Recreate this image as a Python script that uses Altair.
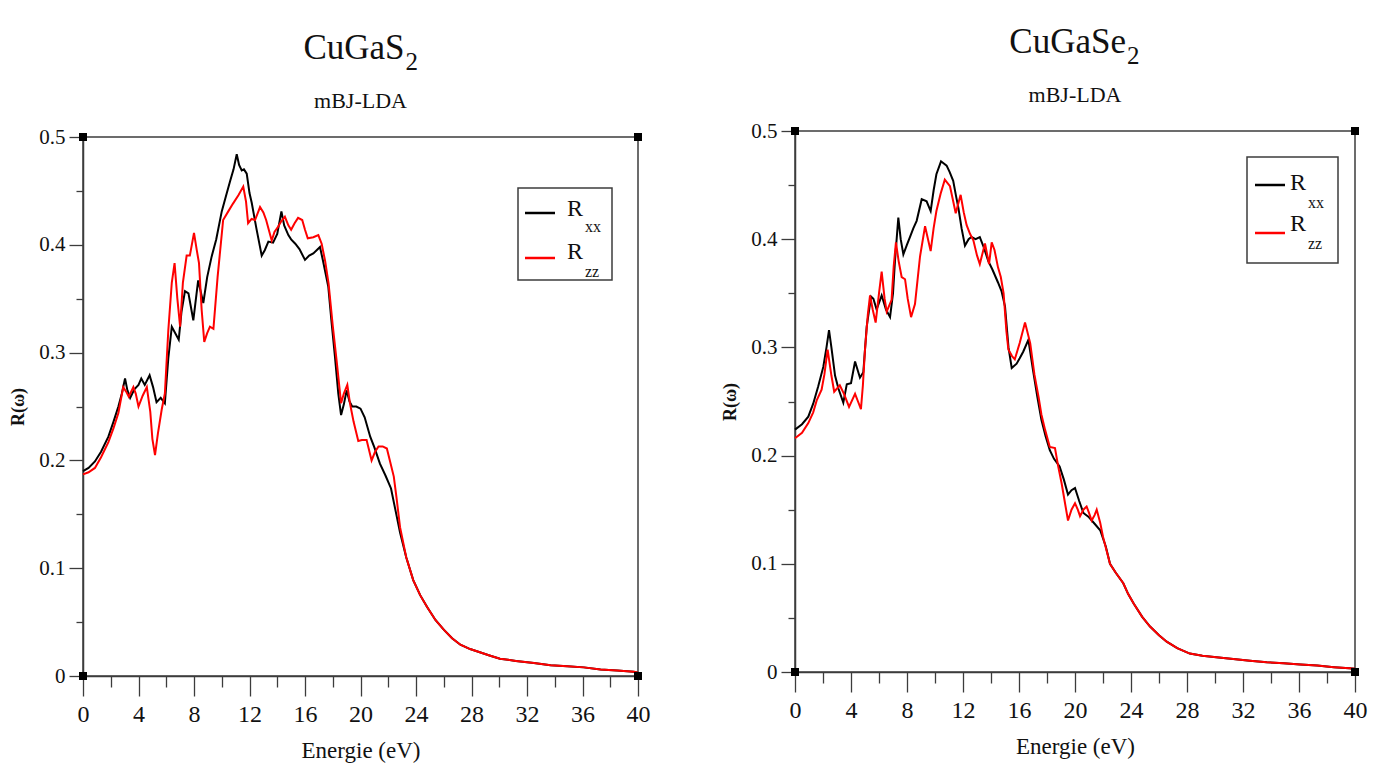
import altair as alt
import pandas as pd

# ---------------- data ----------------
# CuGaS2, R_xx
S_XX_E = [0, 0.4, 0.86, 1.3, 1.83, 2.2, 2.55, 2.8, 3.03, 3.2, 3.4, 3.7, 4.0, 4.2, 4.45, 4.8, 5.05, 5.3, 5.6, 5.9,
          6.15, 6.4, 6.65, 6.9, 7.1, 7.35, 7.6, 7.95, 8.3, 8.67, 8.95, 9.27, 9.6, 10.0, 10.3, 10.6, 10.85, 11.08,
          11.25, 11.44, 11.6, 11.8, 12.0, 12.16, 12.5, 12.88, 13.1, 13.36, 13.7, 14.0, 14.3, 14.5, 14.8, 15.0,
          15.3, 15.6, 16.0, 16.3, 16.6, 17.08, 17.3, 17.68, 17.9, 18.16, 18.4, 18.6, 18.8, 19.0, 19.2, 19.4,
          19.7, 20.0, 20.3, 20.7, 21.0, 21.4, 21.8, 22.2, 22.5, 22.85, 23.3, 23.8, 24.3, 24.8, 25.4, 26.0, 26.6,
          27.2, 27.9, 28.6, 29.3, 30.05, 31.2, 32.5, 33.7, 34.9, 36.1, 37.3, 38.5, 39.7, 40.0]
S_XX_R = [0.190, 0.193, 0.199, 0.208, 0.222, 0.236, 0.250, 0.262, 0.276, 0.265, 0.258, 0.266, 0.270, 0.276,
          0.270, 0.279, 0.268, 0.254, 0.258, 0.253, 0.295, 0.324, 0.318, 0.312, 0.338, 0.357, 0.355, 0.330,
          0.367, 0.346, 0.370, 0.389, 0.405, 0.431, 0.445, 0.459, 0.470, 0.484, 0.474, 0.469, 0.470, 0.466,
          0.448, 0.439, 0.415, 0.390, 0.395, 0.403, 0.402, 0.410, 0.431, 0.418, 0.409, 0.405, 0.401, 0.396,
          0.386, 0.390, 0.392, 0.398, 0.385, 0.361, 0.330, 0.296, 0.262, 0.242, 0.252, 0.265, 0.255, 0.250,
          0.250, 0.248, 0.240, 0.222, 0.212, 0.197, 0.186, 0.174, 0.155, 0.133, 0.110, 0.089, 0.075, 0.064,
          0.052, 0.043, 0.035, 0.029, 0.025, 0.022, 0.019, 0.016, 0.014, 0.012, 0.010, 0.009, 0.008, 0.006,
          0.005, 0.004, 0.003]

# CuGaS2, R_zz
S_ZZ_E = [0, 0.4, 0.86, 1.3, 1.83, 2.2, 2.55, 2.9, 3.1, 3.3, 3.63, 3.8, 4.0, 4.3, 4.6, 4.85, 5.0, 5.19, 5.4,
          5.67, 5.9, 6.15, 6.4, 6.6, 6.8, 7.0, 7.2, 7.47, 7.7, 8.0, 8.2, 8.36, 8.55, 8.74, 8.95, 9.15, 9.4,
          9.7, 10.1, 10.47, 10.8, 11.2, 11.55, 11.75, 11.9, 12.15, 12.4, 12.76, 13.0, 13.2, 13.6, 13.8, 14.07,
          14.3, 14.55, 14.8, 15.0, 15.25, 15.5, 15.8, 16.0, 16.2, 16.6, 16.96, 17.2, 17.45, 17.7, 18.0, 18.3,
          18.6, 18.8, 19.05, 19.24, 19.5, 19.84, 20.1, 20.44, 20.8, 21.05, 21.3, 21.6, 21.9, 22.15, 22.4, 22.6,
          22.85, 23.3, 23.8, 24.3, 24.8, 25.4, 26.0, 26.6, 27.2, 27.9, 28.6, 29.3, 30.05, 31.2, 32.5, 33.7,
          34.9, 36.1, 37.3, 38.5, 39.7, 40.0]
S_ZZ_R = [0.187, 0.189, 0.193, 0.203, 0.217, 0.230, 0.244, 0.268, 0.264, 0.259, 0.268, 0.262, 0.250, 0.260,
          0.268, 0.245, 0.220, 0.205, 0.225, 0.247, 0.262, 0.321, 0.365, 0.383, 0.350, 0.324, 0.365, 0.390,
          0.390, 0.411, 0.395, 0.383, 0.340, 0.310, 0.318, 0.324, 0.322, 0.370, 0.423, 0.431, 0.438, 0.446,
          0.454, 0.440, 0.420, 0.424, 0.423, 0.435, 0.430, 0.423, 0.404, 0.412, 0.417, 0.422, 0.426, 0.418,
          0.414, 0.420, 0.425, 0.423, 0.414, 0.406, 0.407, 0.409, 0.401, 0.385, 0.364, 0.325, 0.290, 0.253,
          0.262, 0.270, 0.253, 0.236, 0.218, 0.219, 0.219, 0.200, 0.208, 0.213, 0.213, 0.211, 0.198, 0.185,
          0.165, 0.138, 0.110, 0.089, 0.075, 0.064, 0.052, 0.043, 0.035, 0.029, 0.025, 0.022, 0.019, 0.016,
          0.014, 0.012, 0.010, 0.009, 0.008, 0.006, 0.005, 0.004, 0.003]

# CuGaSe2, R_xx
SE_XX_E = [0, 0.5, 0.95, 1.3, 1.66, 2.02, 2.25, 2.43, 2.6, 2.86, 3.1, 3.45, 3.7, 4.0, 4.29, 4.5, 4.64, 4.88,
           5.12, 5.43, 5.6, 5.83, 6.19, 6.5, 6.79, 7.0, 7.14, 7.38, 7.55, 7.74, 8.0, 8.21, 8.45, 8.69, 9.05, 9.4,
           9.69, 9.9, 10.1, 10.43, 10.83, 11.05, 11.3, 11.5, 11.67, 11.9, 12.14, 12.4, 12.6, 12.9, 13.2, 13.5,
           13.8, 14.1, 14.5, 14.75, 15.0, 15.25, 15.48, 15.83, 16.05, 16.3, 16.67, 17.0, 17.3, 17.6, 17.9, 18.2,
           18.5, 18.9, 19.2, 19.5, 19.75, 20.0, 20.3, 20.6, 21.0, 21.4, 21.8, 22.2, 22.5, 22.9, 23.45, 23.8,
           24.2, 24.8, 25.36, 26.0, 26.55, 27.3, 28.2, 29.1, 30.1, 31.3, 32.5, 33.7, 34.9, 36.1, 37.3, 38.5,
           39.6, 40.0]
SE_XX_R = [0.224, 0.229, 0.236, 0.248, 0.264, 0.282, 0.300, 0.316, 0.300, 0.274, 0.262, 0.249, 0.266, 0.267,
           0.287, 0.278, 0.272, 0.277, 0.319, 0.347, 0.345, 0.335, 0.348, 0.335, 0.328, 0.350, 0.380, 0.420,
           0.400, 0.386, 0.395, 0.402, 0.410, 0.417, 0.437, 0.435, 0.426, 0.445, 0.460, 0.472, 0.468, 0.462,
           0.454, 0.440, 0.429, 0.410, 0.394, 0.400, 0.402, 0.400, 0.402, 0.392, 0.380, 0.372, 0.360, 0.352,
           0.338, 0.300, 0.281, 0.285, 0.290, 0.296, 0.307, 0.279, 0.255, 0.233, 0.218, 0.205, 0.197, 0.190,
           0.178, 0.164, 0.168, 0.170, 0.158, 0.147, 0.143, 0.137, 0.131, 0.116, 0.100, 0.092, 0.082, 0.072,
           0.063, 0.051, 0.042, 0.034, 0.028, 0.022, 0.017, 0.015, 0.0136, 0.012, 0.0105, 0.009, 0.008, 0.007,
           0.006, 0.0045, 0.0034, 0.003]

# CuGaSe2, R_zz
SE_ZZ_E = [0, 0.5, 0.95, 1.3, 1.55, 1.9, 2.1, 2.33, 2.6, 2.8, 3.2, 3.5, 3.86, 4.29, 4.5, 4.71, 4.85, 5.0, 5.2,
           5.36, 5.55, 5.76, 6.0, 6.19, 6.4, 6.55, 6.9, 7.05, 7.21, 7.4, 7.62, 7.86, 8.05, 8.29, 8.57, 8.75,
           8.93, 9.29, 9.5, 9.69, 9.9, 10.1, 10.4, 10.7, 11.07, 11.3, 11.48, 11.83, 12.05, 12.26, 12.5, 12.74,
           13.0, 13.2, 13.57, 13.86, 14.05, 14.25, 14.5, 14.7, 14.9, 15.1, 15.24, 15.5, 15.7, 16.05, 16.43,
           16.8, 17.1, 17.4, 17.6, 17.86, 18.2, 18.57, 18.8, 19.05, 19.3, 19.5, 19.75, 20.0, 20.2, 20.36, 20.6,
           20.83, 21.0, 21.19, 21.4, 21.55, 21.8, 22.0, 22.3, 22.5, 22.9, 23.45, 23.8, 24.2, 24.8, 25.36, 26.0,
           26.55, 27.3, 28.2, 29.1, 30.1, 31.3, 32.5, 33.7, 34.9, 36.1, 37.3, 38.5, 39.6, 40.0]
SE_ZZ_R = [0.216, 0.221, 0.230, 0.240, 0.251, 0.261, 0.275, 0.298, 0.274, 0.259, 0.265, 0.257, 0.245, 0.257,
           0.250, 0.243, 0.265, 0.298, 0.330, 0.348, 0.335, 0.323, 0.350, 0.370, 0.345, 0.333, 0.344, 0.375,
           0.397, 0.380, 0.365, 0.363, 0.345, 0.328, 0.340, 0.362, 0.384, 0.412, 0.400, 0.389, 0.410, 0.426,
           0.442, 0.455, 0.449, 0.435, 0.424, 0.441, 0.425, 0.413, 0.405, 0.399, 0.385, 0.377, 0.396, 0.377,
           0.397, 0.390, 0.374, 0.365, 0.350, 0.315, 0.298, 0.292, 0.289, 0.304, 0.323, 0.304, 0.275, 0.254,
           0.238, 0.224, 0.208, 0.207, 0.190, 0.174, 0.155, 0.140, 0.150, 0.156, 0.150, 0.144, 0.150, 0.153,
           0.147, 0.140, 0.145, 0.150, 0.138, 0.125, 0.110, 0.100, 0.092, 0.082, 0.072, 0.063, 0.051, 0.042,
           0.034, 0.028, 0.022, 0.017, 0.015, 0.0136, 0.012, 0.0105, 0.009, 0.008, 0.007, 0.006, 0.0045,
           0.0034, 0.003]

SERIES = ["Rxx", "Rzz"]
SERIES_COLORS = ["#000000", "#ff0000"]
CORNER_E = [0, 40, 0, 40]
CORNER_R = [0, 0, 0.5, 0.5]
X_TICKS = list(range(0, 41, 2))
Y_TICKS = [round(i * 0.05, 2) for i in range(11)]

FONT = "Liberation Serif"
AX = "#3c3c3c"
TXT = "#111111"


def title_block(name, W, Ht):
    """Formula (with subscript 2) and method line, drawn above a panel."""
    one = pd.DataFrame({"k": [0]})
    base = Ht + 11  # position of the plot's top edge, relative to this block
    dx = {"CuGaS": 44, "CuGaSe": 51}[name]
    t1 = alt.Chart(one).mark_text(font=FONT, fontSize=35, color=TXT, align="right",
                                  baseline="alphabetic", text=name).encode(
        x=alt.value(W / 2 + dx), y=alt.value(base - 76))
    t2 = alt.Chart(one).mark_text(font=FONT, fontSize=25, color=TXT, align="left",
                                  baseline="alphabetic", text="2").encode(
        x=alt.value(W / 2 + dx + 1), y=alt.value(base - 65))
    t3 = alt.Chart(one).mark_text(font=FONT, fontSize=22, color=TXT, align="center",
                                  baseline="alphabetic", text="mBJ-LDA").encode(
        x=alt.value(W / 2), y=alt.value(base - 27))
    return alt.layer(t1, t2, t3).properties(
        width=W, height=Ht, view=alt.ViewBackground(stroke="transparent", fill="transparent"))


def panel(e_xx, r_xx, e_zz, r_zz, W, H, leg):
    df = pd.concat([
        pd.DataFrame({"E": e_xx, "R": r_xx, "s": SERIES[0]}),
        pd.DataFrame({"E": e_zz, "R": r_zz, "s": SERIES[1]}),
    ])
    xs = alt.Scale(domain=[0, 40], nice=False, zero=False)
    ys = alt.Scale(domain=[0, 0.5], nice=False, zero=False)
    major_y = "abs(datum.value*10 - round(datum.value*10)) < 0.001"
    x_axis = alt.Axis(
        values=X_TICKS, grid=False, labelFlush=False, labelOverlap=False,
        tickSize={"condition": {"test": "datum.value % 4 == 0", "value": 20}, "value": 11},
        labelExpr="datum.value % 4 == 0 ? datum.label : ''",
        labelFont=FONT, labelFontSize=24, labelColor=TXT, labelPadding=6,
        titleFont=FONT, titleFontSize=23, titleFontWeight="normal", titleColor=TXT, titlePadding=13,
        domainColor=AX, domainWidth=1.5, tickColor=AX, tickWidth=1.3,
    )
    y_axis = alt.Axis(
        values=Y_TICKS, grid=False, labelFlush=False, labelOverlap=False,
        tickSize={"condition": {"test": major_y, "value": 14}, "value": 7},
        labelExpr=major_y + " ? (datum.value == 0 ? '0' : format(datum.value, '.1f')) : ''",
        labelFont=FONT, labelFontSize=21, labelColor=TXT, labelPadding=4,
        titleFont=FONT, titleFontSize=18, titleFontWeight="bold", titleColor=TXT, titlePadding=11,
        domainColor=AX, domainWidth=1.5, tickColor=AX, tickWidth=1.3,
    )

    def X(f):
        return alt.X(f, type="quantitative", scale=xs, axis=x_axis, title="Energie (eV)")

    def Y(f):
        return alt.Y(f, type="quantitative", scale=ys, axis=y_axis, title="R(ω)")

    lines = alt.Chart(df).mark_line(strokeWidth=2).encode(
        x=X("E"), y=Y("R"),
        color=alt.Color("s:N", scale=alt.Scale(domain=SERIES, range=SERIES_COLORS), legend=None),
    )
    corners = alt.Chart(pd.DataFrame({"E": CORNER_E, "R": CORNER_R})).mark_square(
        size=64, color="#000000", filled=True, opacity=1
    ).encode(x=X("E"), y=Y("R"))

    one = pd.DataFrame({"k": [0]})
    bx0, bx1, by0, by1 = leg["box"]
    box = alt.Chart(one).mark_rect(fill="white", stroke=AX, strokeWidth=1.5).encode(
        x=alt.value(bx0), x2=alt.value(bx1), y=alt.value(by0), y2=alt.value(by1)
    )
    layers = [lines, corners, box]
    lx0, lx1 = leg["line_x"]
    for i, (ly, ry, sy, sub) in enumerate(leg["rows"]):
        layers.append(alt.Chart(one).mark_rule(color=SERIES_COLORS[i], strokeWidth=2.5).encode(
            x=alt.value(lx0), x2=alt.value(lx1), y=alt.value(ly)))
        layers.append(alt.Chart(one).mark_text(font=FONT, fontSize=24, color=TXT, align="center",
                                               baseline="middle", text="R").encode(
            x=alt.value(leg["R_x"]), y=alt.value(ry)))
        layers.append(alt.Chart(one).mark_text(font=FONT, fontSize=16, color=TXT, align="left",
                                               baseline="middle", text=sub).encode(
            x=alt.value(leg["sub_x"]), y=alt.value(sy)))

    return alt.layer(*layers).properties(
        width=W, height=H, view=alt.ViewBackground(stroke=AX, strokeWidth=1.5))


left_plot = panel(S_XX_E, S_XX_R, S_ZZ_E, S_ZZ_R, 555, 539, {
    "box": (435, 529, 51, 143), "line_x": (442, 472),
    "rows": [(76, 72, 90, "xx"), (121, 115, 135, "zz")],
    "R_x": 492, "sub_x": 502,
})
right_plot = panel(SE_XX_E, SE_XX_R, SE_ZZ_E, SE_ZZ_R, 560, 541, {
    "box": (452, 543, 26, 132), "line_x": (460, 490),
    "rows": [(54, 52, 72, "xx"), (102, 93, 113, "zz")],
    "R_x": 503, "sub_x": 513,
})

left = alt.vconcat(title_block("CuGaS", 555, 110), left_plot, spacing=0)
right = alt.vconcat(title_block("CuGaSe", 560, 104), right_plot, spacing=0)

chart = alt.hconcat(left, right, spacing=70).properties(
    padding={"left": 9, "top": 13, "right": 0, "bottom": 0}
).configure(background="white")

chart.save("out.html", embed_options={"renderer": "svg", "actions": False})
